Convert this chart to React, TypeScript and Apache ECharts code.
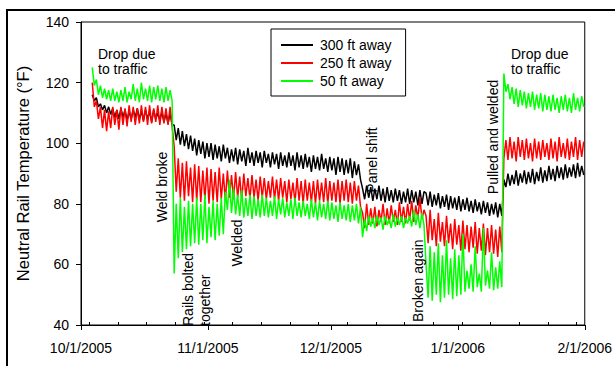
import React, { useEffect, useRef } from "react";
import * as echarts from "echarts";

// x axis in days since 10/1/2005
const tickDays = [0, 31, 61, 92, 123];
const tickLabels = ["10/1/2005", "11/1/2005", "12/1/2005", "1/1/2006", "2/1/2006"];
const weekDays = [2, 9, 16, 23, 30, 37, 44, 51, 58, 65, 72, 79, 86, 93, 100, 107, 114, 121];

// samples every half day, starting 10/3/2005 ~ 6 pm (day 2.75)
const startDay = 2.75;
const stepDays = 0.5;

const seriesNames = ["300 ft away", "250 ft away", "50 ft away"];
const seriesColors = ["#000000", "#ff0000", "#00ff00"];

const blackA = [
  116, 114, 115, 112, 113, 111, 112.5, 110, 112, 109.5,
  111.5, 108.5, 111, 108, 111.5, 108.5, 111, 107.5, 110.5, 108,
  111, 108.5, 111.5, 108, 110.5, 107.5, 111, 108, 110.5, 107,
  111, 108, 110, 107.5, 110.5, 107, 110, 106.5, 110, 106,
];
const blackB = [
  106, 101, 105, 99.5, 104, 99, 103, 98, 102.5, 97.5,
  101.5, 96, 101, 96.5, 100.5, 95, 100, 95.5, 100, 94.5,
  99.5, 95, 99, 94, 99.5, 95, 98.5, 93.5, 98, 94,
  98.5, 93, 98, 94, 97.5, 92.5, 98.5, 93.5, 97, 92.5,
  97.5, 93.5, 97, 92, 97.5, 93.5, 96.5, 92, 97, 93,
  96.5, 91.5, 97, 92.5, 96, 92, 97, 92.5, 96, 91,
  97, 92, 96, 91.5, 96.5, 92, 95.5, 90.5, 96, 91.5,
  95.5, 91, 96.5, 91.5, 95, 90.5, 95.5, 91, 95, 89.5,
  95.5, 90.5, 95, 89.5, 94.5, 90, 95, 88.5, 94, 89.5,
  93, 88,
];
const blackC = [
  85, 81.5, 86, 82, 85.5, 81, 85, 81.5, 86, 81,
  85, 80.5, 85.5, 81, 84.5, 80.5, 85, 81, 84.5, 80,
  84, 80.5, 85, 80, 84.5, 80.5, 84, 79.5, 84.5, 80,
  84,
];
const blackD = [
  83.5, 79.5, 84, 79, 83, 79.5, 83.5, 78.5, 82.5, 79,
  83, 78, 82.5, 78.5, 82, 78, 82.5, 77.5, 81.5, 78,
  82, 77.5, 81, 77, 81.5, 77.5, 80.5, 76.5, 81, 77,
  80.5, 76, 80, 76.5, 80.5, 75.5, 80, 76,
];
const blackE = [
  88, 85.5, 90, 86, 89.5, 86.5, 91, 86, 90, 87,
  91, 86.5, 90.5, 87, 91.5, 86.5, 90.5, 87.5, 92, 87,
  91, 87.5, 92.5, 88, 91.5, 87.5, 92.5, 88.5, 92, 88,
  93, 88.5, 92, 89, 93, 88.5, 93.5, 89, 92.5, 89.5,
];

const redA = [
  120, 112, 114, 108, 112, 105, 111, 104, 110.5, 105,
  112, 106, 111, 104.5, 112, 106, 111.5, 105.5, 112.5, 107,
  112, 106, 111.5, 106.5, 112.5, 107, 112, 106, 112.5, 106.5,
  111.5, 107, 112.5, 106, 112, 106.5, 111.5, 106, 112, 105.5,
];
const redB = [
  99, 84, 95, 82, 93.5, 81, 94, 82.5, 92, 80.5,
  93, 81, 92.5, 80.5, 91, 81.5, 92, 80, 91.5, 81,
  90.5, 80.5, 92, 81.5, 90, 81, 91, 82, 89.5, 81.5,
  90.5, 82, 89, 81, 90, 82.5, 88.5, 81.5, 89.5, 82,
  88, 81, 89, 82, 88.5, 81.5, 87.5, 82, 89, 81.5,
  88, 81, 88.5, 82, 87.5, 80.5, 88, 81.5, 87, 80.5,
  88.5, 81, 87.5, 80, 88, 81, 87, 80.5, 87.5, 80,
  88, 81, 87, 80.5, 88.5, 80, 87.5, 81, 87, 80.5,
  88, 80, 87.5, 81, 88, 80.5, 87, 80, 87.5, 81,
  86, 79,
];
const redC = [
  77, 72, 80, 73, 78.5, 73.5, 79, 72.5, 78, 74,
  80, 73, 78.5, 73.5, 79.5, 74, 78, 73, 80.5, 74,
  79, 73.5, 80, 74.5, 81, 74, 79.5, 75, 82, 75,
  78,
];
const redD = [
  76, 67, 78, 68, 75, 66, 77, 67.5, 74, 66,
  76, 67, 73.5, 65, 75, 66.5, 73, 64.5, 74.5, 65,
  73, 64, 72.5, 65.5, 74, 63.5, 72, 64.5, 73.5, 63,
  72, 64, 73, 63.5, 71.5, 62.5, 72.5, 64,
];
const redE = [
  95, 101, 94.5, 102, 95, 100.5, 94, 102, 95.5, 101,
  94.5, 101.5, 95, 100, 94, 101.5, 95, 100.5, 94.5, 101,
  95.5, 100, 94.5, 101.5, 95, 100.5, 94, 102, 95.5, 100,
  95, 101.5, 94.5, 100.5, 95.5, 102, 94.5, 101, 95.5, 100.5,
];

const greenA = [
  125, 119, 121, 116, 119, 115, 118, 114.5, 117.5, 114,
  118, 114, 117, 113.5, 117.5, 114, 118.5, 113.5, 117, 114.5,
  119.5, 114, 118, 113.5, 120, 114.5, 118, 114, 119, 113.5,
  118.5, 114.5, 119, 114, 118, 113.5, 118.5, 114, 117.5, 114,
];
const greenB1 = [
  57, 80, 62, 82, 64, 79, 65, 81, 66, 80,
  67, 82, 66.5, 80, 68, 83, 67, 79, 69, 81,
  68, 80, 69.5, 82, 70,
];
const greenB2 = [
  84, 78, 88, 77, 85, 76.5, 83, 76, 84.5, 75.5,
  82, 76, 83, 75, 82.5, 76, 81.5, 75.5, 83, 76,
  82, 75.5, 81, 76, 82.5, 75, 81.5, 76.5, 82, 75.5,
  80.5, 76, 81.5, 75, 82, 76, 80.5, 75.5, 81, 76,
  80, 75, 81.5, 75.5, 80.5, 74.5, 81, 75.5, 80, 75,
  81, 74.5, 80.5, 75, 79.5, 74, 80.5, 75, 79.5, 74.5,
  80, 74, 79.5, 74.5, 80, 73.5, 79,
];
const greenC = [
  69, 75, 71, 76, 72.5, 75.5, 72, 76, 73, 75.5,
  71.5, 76, 73, 75, 72, 76.5, 72.5, 75.5, 73, 76,
  72, 75.5, 73.5, 76, 72.5, 78, 73, 76.5, 72, 77,
  73,
];
const greenD = [
  60, 49, 66, 48, 64, 50, 67, 47.5, 63, 49,
  68, 50, 62, 48.5, 65, 49.5, 63, 50, 70, 51,
  58, 52, 60, 51, 66, 52.5, 57, 51, 72, 53,
  58, 52, 64, 51.5, 59, 52, 61, 52.5,
];
const greenE = [
  123, 117, 119.5, 114.5, 118.5, 113, 118, 112, 117.5, 112.5,
  117, 111.5, 116.5, 112, 117, 111, 116, 111.5, 116.5, 110.5,
  116, 111, 115.5, 110.5, 116, 111, 115, 110, 115.5, 111,
  116, 110.5, 115, 110, 116.5, 111, 115, 110.5, 115.5, 112,
];

const black = [...blackA, ...blackB, ...blackC, ...blackD, ...blackE];
const red = [...redA, ...redB, ...redC, ...redD, ...redE];
const green = [...greenA, ...greenB1, ...greenB2, ...greenC, ...greenD, ...greenE];

const FONT = "'Liberation Sans', Arial, Helvetica, sans-serif";

const toPoints = (vals: number[]) => vals.map((v, i) => [startDay + i * stepDays, v]);

function vText(text: string, x: number, y: number, align: string = "center") {
  return {
    type: "text",
    x,
    y,
    rotation: Math.PI / 2,
    z: 100,
    style: {
      text,
      font: `14px ${FONT}`,
      fill: "#000",
      textAlign: align,
      textVerticalAlign: "middle",
      lineHeight: 17,
    },
  };
}

function hText(text: string, x: number, y: number) {
  return {
    type: "text",
    x,
    y,
    z: 100,
    style: {
      text,
      font: `14px ${FONT}`,
      fill: "#000",
      textAlign: "left",
      textVerticalAlign: "top",
      lineHeight: 15,
    },
  };
}

export default function App() {
  const ref = useRef<HTMLDivElement>(null);
  useEffect(() => {
    const chart = echarts.init(ref.current!, null, { renderer: "svg" });
    const data = [black, red, green];
    const option: any = {
      animation: false,
      backgroundColor: "#ffffff",
      textStyle: { fontFamily: FONT },
      grid: {
        left: 81,
        right: 27,
        top: 22,
        bottom: 41,
        show: true,
        borderColor: "#000",
        borderWidth: 1,
        backgroundColor: "transparent",
      },
      legend: {
        data: seriesNames,
        orient: "vertical",
        left: 271,
        top: 29,
        padding: [9, 14, 8, 10],
        itemGap: 4,
        itemWidth: 32,
        itemHeight: 2,
        icon: "rect",
        borderColor: "#000",
        borderWidth: 1,
        backgroundColor: "#fff",
        textStyle: { fontSize: 14, color: "#000", fontFamily: FONT, padding: [0, 0, 0, 2] },
      },
      xAxis: [
        {
          type: "value",
          min: 0,
          max: 123,
          axisLine: { show: true, onZero: false, lineStyle: { color: "#000", width: 1 } },
          axisTick: {
            show: true,
            inside: false,
            length: 5,
            customValues: tickDays,
            lineStyle: { color: "#000" },
          },
          axisLabel: {
            customValues: tickDays,
            formatter: (v: number) => {
              const i = tickDays.indexOf(Math.round(v));
              return i >= 0 ? tickLabels[i] : "";
            },
            fontSize: 14,
            color: "#000",
            fontFamily: FONT,
            margin: 16,
          },
          splitLine: { show: false },
        },
        {
          type: "value",
          min: 0,
          max: 123,
          position: "bottom",
          axisLine: { show: false },
          axisTick: {
            show: true,
            inside: true,
            length: 3,
            customValues: weekDays,
            lineStyle: { color: "#000" },
          },
          axisLabel: { show: false },
          splitLine: { show: false },
        },
      ],
      yAxis: {
        type: "value",
        min: 40,
        max: 140,
        interval: 20,
        name: "Neutral Rail Temperature (°F)",
        nameLocation: "middle",
        nameGap: 50,
        nameTextStyle: { fontSize: 16.5, color: "#000", fontFamily: FONT },
        axisLine: { show: true, lineStyle: { color: "#000", width: 1 } },
        axisTick: { show: true, inside: false, length: 5, lineStyle: { color: "#000" } },
        axisLabel: { fontSize: 14, color: "#000", fontFamily: FONT, margin: 12 },
        splitLine: { show: false },
      },
      series: seriesNames.map((name, k) => ({
        name,
        type: "line",
        xAxisIndex: 0,
        data: toPoints(data[k]),
        symbol: "none",
        showSymbol: false,
        color: seriesColors[k],
        lineStyle: { color: seriesColors[k], width: 1.5 },
        clip: true,
        silent: true,
      })),
      graphic: [
        {
          type: "rect",
          shape: { x: 7, y: 10, width: 700, height: 500 },
          style: { fill: "none", stroke: "#000", lineWidth: 2 },
          z: 100,
        },
        hText("Drop due\nto traffic", 98, 46),
        hText("Drop due\nto traffic", 511, 46),
        vText("Weld broke", 162, 187),
        vText("Rails bolted\ntogether", 196.5, 326, "left"),
        vText("Welded", 237, 243),
        vText("Panel shift", 372, 160),
        vText("Broken again", 418, 322, "left"),
        vText("Pulled and welded", 493, 137),
      ],
    };
    chart.setOption(option);
    return () => chart.dispose();
  }, []);
  return (
    <div
      ref={ref}
      style={{ position: "fixed", left: 0, top: 0, width: 615, height: 366, background: "#fff" }}
    />
  );
}
